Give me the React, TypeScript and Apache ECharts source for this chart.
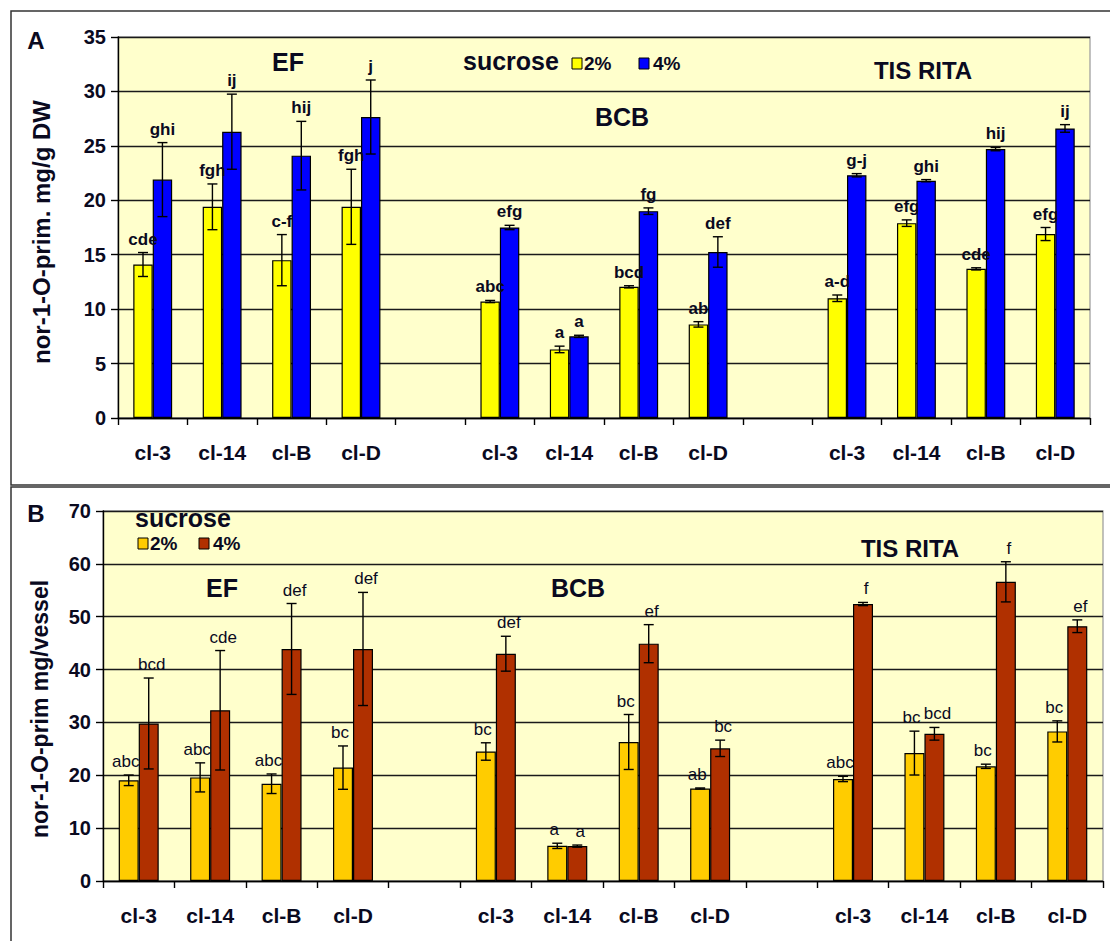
import React, { useEffect, useRef } from 'react';
import * as echarts from 'echarts';

// ---------- data ----------
const categories = ['cl-3', 'cl-14', 'cl-B', 'cl-D', '', 'cl-3', 'cl-14', 'cl-B', 'cl-D', '', 'cl-3', 'cl-14', 'cl-B', 'cl-D'];
const groupTitles = ['EF', 'BCB', 'TIS RITA'];

const yTicksA = [0, 35, 5];
const yTicksB = [0, 70, 10];

// Panel A: nor-1-O-prim. mg/g DW
const a2Values = [14.1, 19.4, 14.5, 19.4, null, 10.7, 6.3, 12.05, 8.6, null, 11.0, 17.9, 13.7, 16.9];
const a2Errors = [1.1, 2.1, 2.35, 3.45, null, 0.1, 0.3, 0.1, 0.25, null, 0.3, 0.3, 0.1, 0.6];
const a2Letters = ['cde', 'fgh', 'c-f', 'fgh', '', 'abc', 'a', 'bcd', 'ab', '', 'a-d', 'efg', 'cde', 'efg'];
const a4Values = [21.9, 26.3, 24.1, 27.65, null, 17.5, 7.5, 19.0, 15.25, null, 22.3, 21.8, 24.7, 26.6];
const a4Errors = [3.4, 3.45, 3.15, 3.4, null, 0.2, 0.1, 0.3, 1.4, null, 0.15, 0.1, 0.15, 0.35];
const a4Letters = ['ghi', 'ij', 'hij', 'j', '', 'efg', 'a', 'fg', 'def', '', 'g-j', 'ghi', 'hij', 'ij'];

// Panel B: nor-1-O-prim mg/vessel
const b2Values = [19.05, 19.6, 18.4, 21.45, null, 24.5, 6.65, 26.3, 17.5, null, 19.3, 24.2, 21.7, 28.3];
const b2Errors = [1.0, 2.75, 1.85, 4.1, null, 1.65, 0.5, 5.2, 0.1, null, 0.5, 4.15, 0.4, 2.0];
const b2Letters = ['abc', 'abc', 'abc', 'bc', '', 'bc', 'a', 'bc', 'ab', '', 'abc', 'bc', 'bc', 'bc'];
const b4Values = [29.8, 32.3, 43.9, 43.9, null, 43.0, 6.6, 44.9, 25.1, null, 52.4, 27.85, 56.6, 48.2];
const b4Errors = [8.6, 11.3, 8.6, 10.7, null, 3.3, 0.2, 3.6, 1.55, null, 0.3, 1.2, 3.8, 1.2];
const b4Letters = ['bcd', 'cde', 'def', 'def', '', 'def', 'a', 'ef', 'bc', '', 'f', 'bcd', 'f', 'ef'];

// ---------- styles ----------
const BAR_FRAC = 0.28;
const FONT = "'Liberation Sans', Arial, sans-serif";
const TXT = '#0a0a1f';

function barSeries(name: string, values: (number | null)[], color: string, axis: number) {
  return {
    type: 'bar',
    name,
    xAxisIndex: axis,
    yAxisIndex: axis,
    data: values.map((v) => (v == null ? '-' : v)),
    barWidth: BAR_FRAC * 100 + '%',
    barGap: '0%',
    itemStyle: { color, borderColor: '#000', borderWidth: 1.2 },
    z: 2,
  };
}

function errSeries(values: (number | null)[], errors: (number | null)[], letters: string[], side: number, axis: number, letterFont: any, labelDx: number) {
  const data: any[] = [];
  const labs: string[] = [];
  values.forEach((v, i) => {
    if (v != null) {
      data.push([i, v, errors[i] as number]);
      labs.push(letters[i]);
    }
  });
  return {
    type: 'custom',
    xAxisIndex: axis,
    yAxisIndex: axis,
    data,
    encode: { x: 0, y: 1 },
    clip: false,
    z: 5,
    renderItem: (params: any, api: any) => {
      const idx = api.value(0);
      const v = api.value(1);
      const e = api.value(2);
      const band = api.size([1, 0])[0];
      const bw = band * BAR_FRAC;
      const c = api.coord([idx, v]);
      const cx = c[0] + (side * bw) / 2;
      const top = api.coord([idx, v + e])[1];
      const bot = api.coord([idx, v - e])[1];
      const cap = 5;
      const ls = { stroke: '#000', lineWidth: 1.4 };
      return {
        type: 'group',
        children: [
          { type: 'line', shape: { x1: cx, y1: top, x2: cx, y2: bot }, style: ls },
          { type: 'line', shape: { x1: cx - cap, y1: top, x2: cx + cap, y2: top }, style: ls },
          { type: 'line', shape: { x1: cx - cap, y1: bot, x2: cx + cap, y2: bot }, style: ls },
          {
            type: 'text',
            x: cx + side * labelDx,
            y: top - 5,
            style: {
              text: labs[params.dataIndex],
              align: 'center',
              verticalAlign: 'bottom',
              textAlign: 'center',
              textVerticalAlign: 'bottom',
              fill: TXT,
              ...letterFont,
            },
          },
        ],
      };
    },
  };
}

function xAxis(grid: number) {
  return {
    type: 'category',
    gridIndex: grid,
    data: categories,
    axisLine: { show: true, lineStyle: { color: '#000', width: 1.4 } },
    axisTick: { show: true, length: 7, interval: 0, lineStyle: { color: '#000', width: 1.4 } },
    axisLabel: { interval: 0, margin: 24, color: TXT, fontFamily: FONT, fontWeight: 'bold', fontSize: 21 },
    splitLine: { show: false },
  };
}

function yAxis(grid: number, ticks: number[]) {
  return {
    type: 'value',
    gridIndex: grid,
    min: ticks[0],
    max: ticks[1],
    interval: ticks[2],
    axisLine: { show: true, lineStyle: { color: '#000', width: 1.4 } },
    axisTick: { show: true, length: 7, lineStyle: { color: '#000', width: 1.4 } },
    axisLabel: { margin: 12, color: TXT, fontFamily: FONT, fontWeight: 'bold', fontSize: 20 },
    splitLine: { show: true, lineStyle: { color: '#1a1a1a', width: 1.4 } },
  };
}

function txt(text: string, x: number, y: number, size: number, align = 'center', extra: any = {}) {
  return {
    type: 'text',
    x,
    y,
    z: 10,
    style: {
      text,
      fill: TXT,
      font: `bold ${size}px ${FONT}`,
      align,
      verticalAlign: 'middle',
      textAlign: align,
      textVerticalAlign: 'middle',
    },
    ...extra,
  };
}

function box(x: number, y: number, color: string) {
  return { type: 'rect', z: 10, shape: { x, y, width: 10, height: 11 }, style: { fill: color, stroke: '#000', lineWidth: 1 } };
}

const letterFontA = { font: `bold 17px ${FONT}` };
const letterFontB = { font: `17px ${FONT}` };

const option: any = {
  animation: false,
  backgroundColor: '#ffffff',
  grid: [
    { left: 118, top: 37, width: 972, height: 381, show: true, backgroundColor: '#FFFFCC', borderColor: '#a0a0a0', borderWidth: 1.3 },
    { left: 103, top: 511, width: 1000, height: 370, show: true, backgroundColor: '#FFFFCC', borderColor: '#a0a0a0', borderWidth: 1.3 },
  ],
  xAxis: [xAxis(0), xAxis(1)],
  yAxis: [yAxis(0, yTicksA), yAxis(1, yTicksB)],
  series: [
    barSeries('2%', a2Values, '#FFFF00', 0),
    barSeries('4%', a4Values, '#0000FF', 0),
    errSeries(a2Values, a2Errors, a2Letters, -1, 0, letterFontA, 0),
    errSeries(a4Values, a4Errors, a4Letters, 1, 0, letterFontA, 0),
    barSeries('2% ', b2Values, '#FFCC00', 1),
    barSeries('4% ', b4Values, '#B03000', 1),
    errSeries(b2Values, b2Errors, b2Letters, -1, 1, letterFontB, 3),
    errSeries(b4Values, b4Errors, b4Letters, 1, 1, letterFontB, 3),
  ],
  graphic: [
    // panel frames
    { type: 'rect', z: 0, shape: { x: 11, y: 11, width: 1110, height: 474 }, style: { fill: 'none', stroke: '#333', lineWidth: 1.5 } },
    { type: 'rect', z: 0, shape: { x: 11, y: 487, width: 1110, height: 470 }, style: { fill: 'none', stroke: '#333', lineWidth: 1.5 } },
    txt('A', 36, 40, 24),
    txt('B', 36, 513, 24),
    txt('nor-1-O-prim. mg/g DW', 41, 232, 24, 'center', { rotation: Math.PI / 2 }),
    txt('nor-1-O-prim mg/vessel', 40, 709, 23, 'center', { rotation: Math.PI / 2 }),
    // panel A annotations
    txt(groupTitles[0], 288, 62, 25),
    txt(groupTitles[1], 622, 117, 25),
    txt(groupTitles[2], 923, 70, 24),
    txt('sucrose', 463, 61, 25, 'left'),
    box(572, 58, '#FFFF00'),
    txt('2%', 584, 63, 19, 'left'),
    box(639, 58, '#0000FF'),
    txt('4%', 653, 63, 19, 'left'),
    // panel B annotations
    txt(groupTitles[0], 222, 588, 25),
    txt(groupTitles[1], 578, 588, 25),
    txt(groupTitles[2], 910, 548, 24),
    txt('sucrose', 135, 518, 25, 'left'),
    box(138, 538, '#FFCC00'),
    txt('2%', 150, 543, 19, 'left'),
    box(199, 538, '#B03000'),
    txt('4%', 213, 543, 19, 'left'),
  ],
};

export default function App() {
  const ref = useRef<HTMLDivElement>(null);
  useEffect(() => {
    const chart = echarts.init(ref.current!, null, { renderer: 'svg' });
    chart.setOption(option);
    return () => chart.dispose();
  }, []);
  return (
    <div
      ref={ref}
      style={{ position: 'fixed', left: 0, top: 0, width: 1110, height: 941, background: '#fff' }}
    />
  );
}
